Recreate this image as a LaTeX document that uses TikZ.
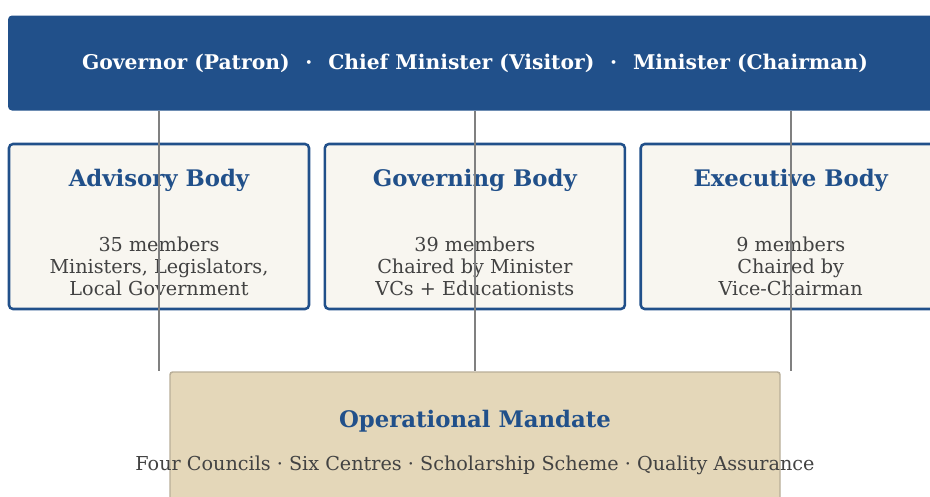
\documentclass[tikz,border=0pt]{standalone}
\usepackage{fontspec}
\setmainfont{DejaVu Serif}
\usepackage{xcolor}
\usepackage{tikz}
\usetikzlibrary{positioning, calc}
\definecolor{navy}{HTML}{21508A}
\definecolor{paper}{HTML}{F8F6F0}
\definecolor{sand}{HTML}{E4D7B9}
\definecolor{sandborder}{HTML}{B8AE98}
\definecolor{inkgray}{HTML}{424242}
\definecolor{linkgray}{HTML}{808080}
\newcommand{\dotsep}{\hspace{0.78em}·\hspace{0.78em}}

\begin{document}
\begin{tikzpicture}[x=0.75pt, y=-0.75pt, node distance=10pt,
    bodybox/.style={draw=navy, line width=1.9pt, fill=paper, rounded corners=3pt,
      minimum width=225pt, minimum height=123.75pt},
    bodytitle/.style={text=navy, font=\fontsize{17.1}{20}\selectfont\bfseries},
    bodytext/.style={text=inkgray, align=center, font=\fontsize{14.4}{16.5}\selectfont},
    link/.style={draw=linkgray, line width=1.6pt}]
  \useasboundingbox (0,0) rectangle (930,496);

  % patron bar
  \node[fill=navy, rounded corners=3pt, minimum width=700.5pt, minimum height=71.25pt,
        text=white, font=\fontsize{15.2}{18}\selectfont\bfseries] (top) at (475,63)
    {Governor (Patron)\dotsep Chief Minister (Visitor)\dotsep Minister (Chairman)};

  % the three bodies
  \node[bodybox] (adv) at (159,226.5) {};
  \node[bodybox, right=of adv] (gov) {};
  \node[bodybox, right=of gov] (exe) {};

  \node[bodytitle] (advt) at ($(adv.center)+(0,-46)$) {Advisory Body};
  \node[bodytitle] (govt) at ($(gov.center)+(0,-46)$) {Governing Body};
  \node[bodytitle] (exet) at ($(exe.center)+(0,-46)$) {Executive Body};

  \node[bodytext] (advb) at ($(adv.center)+(0,40)$)
    {35 members\\Ministers, Legislators,\\Local Government};
  \node[bodytext] (govb) at ($(gov.center)+(0,40)$)
    {39 members\\Chaired by Minister\\VCs + Educationists};
  \node[bodytext] (exeb) at ($(exe.center)+(0,40)$)
    {9 members\\Chaired by\\Vice-Chairman};

  % mandate
  \node[fill=sand, draw=sandborder, line width=1.1pt, rounded corners=2pt,
        minimum width=457.5pt, minimum height=120pt] (mand) at (475,452) {};
  \node[bodytitle] (mandt) at ($(mand.north)+(0,50)$) {Operational Mandate};
  \node[bodytext] (mandb) at ($(mand.north)+(0,94)$)
    {Four Councils · Six Centres · Scholarship Scheme · Quality Assurance};

  % links
  \draw[link] (adv |- top.south) -- (adv |- mand.north);
  \draw[link] (gov |- top.south) -- (gov |- mand.north);
  \draw[link] (exe |- top.south) -- (exe |- mand.north);
\end{tikzpicture}
\end{document}
